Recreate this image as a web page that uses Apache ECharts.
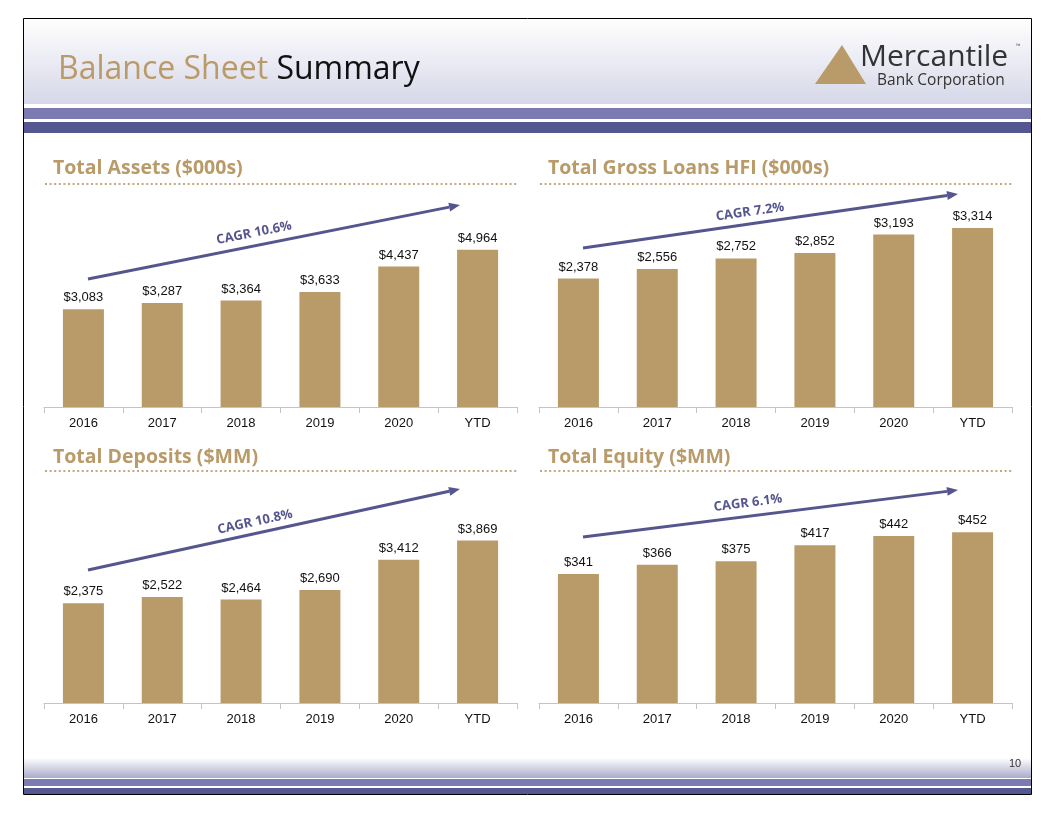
<!DOCTYPE html>
<html>
<head>
<meta charset="utf-8">
<script src="https://cdn.jsdelivr.net/npm/echarts@6/dist/echarts.min.js"></script>
<style>
  html, body { margin: 0; padding: 0; background: #ffffff; }
  #chart { width: 1056px; height: 816px; }
</style>
</head>
<body>
<div id="chart"></div>
<script>
// ---- data ----
const categories = ['2016', '2017', '2018', '2019', '2020', 'YTD'];
const totalAssets = [3083, 3287, 3364, 3633, 4437, 4964];
const grossLoans = [2378, 2556, 2752, 2852, 3193, 3314];
const deposits = [2375, 2522, 2464, 2690, 3412, 3869];
const equity = [341, 366, 375, 417, 442, 452];
const panelTitles = ['Total Assets ($000s)', 'Total Gross Loans HFI ($000s)', 'Total Deposits ($MM)', 'Total Equity ($MM)'];
const cagrLabels = ['CAGR 10.6%', 'CAGR 7.2%', 'CAGR 10.8%', 'CAGR 6.1%'];
const pageTitleGold = 'Balance Sheet';
const pageTitleBlack = 'Summary';

// ---- style / layout ----
const GOLD = '#b99a69';
const PURPLE = '#55568e';
const seriesData = [totalAssets, grossLoans, deposits, equity];
const grids = [
  { left: 44, top: 217, width: 473, height: 190, max: 6000 },
  { left: 539, top: 191, width: 473, height: 216, max: 4000 },
  { left: 44, top: 493, width: 473, height: 210, max: 5000 },
  { left: 539, top: 514, width: 473, height: 189, max: 500 }
];
const titlePos = [[53, 168], [548, 168], [53, 457], [548, 457]];
const dotLines = [[45, 518, 184], [540, 1013, 184], [45, 518, 471], [540, 1013, 471]];
const arrows = [
  { x1: 88, y1: 279, x2: 460, y2: 205, tx: 254, ty: 233 },
  { x1: 583, y1: 248, x2: 958, y2: 194, tx: 750, ty: 212 },
  { x1: 88, y1: 570, x2: 460, y2: 489, tx: 255, ty: 522 },
  { x1: 583, y1: 537, x2: 958, y2: 490, tx: 748, ty: 503 }
];

const fmt = v => '$' + v.toLocaleString('en-US');

const graphics = [];
// header gradient + stripes
graphics.push({ type: 'rect', shape: { x: 23, y: 18, width: 1009, height: 86 }, style: { fill: new echarts.graphic.LinearGradient(0, 0, 0, 1, [{ offset: 0, color: '#ffffff' }, { offset: 1, color: '#d6d7e8' }]) }, z: 0 });
graphics.push({ type: 'rect', shape: { x: 23, y: 108, width: 1009, height: 11 }, style: { fill: '#7b7bb1' }, z: 0 });
graphics.push({ type: 'rect', shape: { x: 23, y: 122, width: 1009, height: 11 }, style: { fill: '#555890' }, z: 0 });
// footer
graphics.push({ type: 'rect', shape: { x: 23, y: 758, width: 1009, height: 20 }, style: { fill: new echarts.graphic.LinearGradient(0, 0, 0, 1, [{ offset: 0, color: '#ffffff' }, { offset: 1, color: '#a9aacb' }]) }, z: 0 });
graphics.push({ type: 'rect', shape: { x: 23, y: 779, width: 1009, height: 7 }, style: { fill: '#7b7bb1' }, z: 0 });
graphics.push({ type: 'rect', shape: { x: 23, y: 788, width: 1009, height: 6 }, style: { fill: '#555890' }, z: 0 });
// frame
graphics.push({ type: 'rect', shape: { x: 23.5, y: 18.5, width: 1008, height: 776 }, style: { fill: null, stroke: '#000', lineWidth: 1 }, z: 5 });
// page title (one line, two colours)
graphics.push({
  type: 'text', x: 58, y: 70, z: 5,
  style: {
    text: '{g|' + pageTitleGold + '} {b|' + pageTitleBlack + '}',
    textVerticalAlign: 'middle',
    rich: {
      g: { fill: GOLD, fontFamily: 'Open Sans', fontSize: 32, fontWeight: 400 },
      b: { fill: '#111', fontFamily: 'Open Sans', fontSize: 32, fontWeight: 400 }
    },
    font: '400 32px "Open Sans"'
  }
});
// logo
graphics.push({ type: 'polygon', shape: { points: [[815, 84], [842, 45], [866, 84]] }, style: { fill: GOLD }, z: 5 });
graphics.push({ type: 'text', x: 860, y: 57, style: { text: 'Mercantile', fill: '#333333', font: '400 30px "Open Sans"', textVerticalAlign: 'middle' }, z: 5 });
graphics.push({ type: 'text', x: 1016, y: 46, style: { text: '™', fill: '#666', font: '6px "Open Sans"', textVerticalAlign: 'middle' }, z: 5 });
graphics.push({ type: 'text', x: 877, y: 81, style: { text: 'Bank Corporation', fill: '#333333', font: '400 15.5px "Open Sans"', textVerticalAlign: 'middle' }, z: 5 });
// page number
graphics.push({ type: 'text', x: 1009, y: 764, style: { text: '10', fill: '#333', font: '11px "Liberation Sans Narrow", "Liberation Sans"', textVerticalAlign: 'middle' }, z: 5 });

// panel titles and dotted rules
panelTitles.forEach((t, i) => {
  graphics.push({ type: 'text', x: titlePos[i][0], y: titlePos[i][1], style: { text: t, fill: GOLD, font: '700 19.5px "Open Sans"', textVerticalAlign: 'middle' }, z: 5 });
  const d = dotLines[i];
  graphics.push({ type: 'line', shape: { x1: d[0], y1: d[2], x2: d[1], y2: d[2] }, style: { stroke: '#c4a87c', lineWidth: 2, lineDash: [2, 2.6] }, z: 5 });
});

// CAGR arrows
arrows.forEach((a, i) => {
  const ang = Math.atan2(a.y2 - a.y1, a.x2 - a.x1);
  const hl = 11, hw = 4.5;
  const bx = a.x2 - hl * Math.cos(ang), by = a.y2 - hl * Math.sin(ang);
  const px = -Math.sin(ang), py = Math.cos(ang);
  graphics.push({ type: 'line', shape: { x1: a.x1, y1: a.y1, x2: bx, y2: by }, style: { stroke: PURPLE, lineWidth: 3 }, z: 6 });
  graphics.push({ type: 'polygon', shape: { points: [[a.x2, a.y2], [bx + px * hw, by + py * hw], [bx - px * hw, by - py * hw]] }, style: { fill: PURPLE }, z: 6 });
  graphics.push({ type: 'text', x: a.tx, y: a.ty, rotation: -ang, style: { text: cagrLabels[i], fill: PURPLE, font: '700 13px "Open Sans"', textAlign: 'center', textVerticalAlign: 'middle' }, z: 6 });
});

const option = {
  animation: false,
  backgroundColor: '#ffffff',
  graphic: graphics,
  grid: grids.map(g => ({ left: g.left, top: g.top, width: g.width, height: g.height, containLabel: false })),
  xAxis: grids.map((g, i) => ({
    type: 'category', gridIndex: i, data: categories,
    axisLine: { lineStyle: { color: '#c4c4c4', width: 1 } },
    axisTick: { show: true, length: 6, lineStyle: { color: '#c4c4c4' } },
    axisLabel: { color: '#111', fontFamily: '"Liberation Sans", Arial', fontSize: 13, margin: 10 }
  })),
  yAxis: grids.map((g, i) => ({
    type: 'value', gridIndex: i, min: 0, max: g.max, show: false, splitLine: { show: false }
  })),
  series: seriesData.map((d, i) => ({
    type: 'bar', xAxisIndex: i, yAxisIndex: i, data: d, barWidth: '52%',
    itemStyle: { color: GOLD },
    label: { show: true, position: 'top', distance: 5, color: '#111', fontFamily: '"Liberation Sans", Arial', fontSize: 13, formatter: p => fmt(p.value) }
  }))
};

const chart = echarts.init(document.getElementById('chart'), null, { renderer: 'canvas' });
chart.setOption(option);
</script>
</body>
</html>
